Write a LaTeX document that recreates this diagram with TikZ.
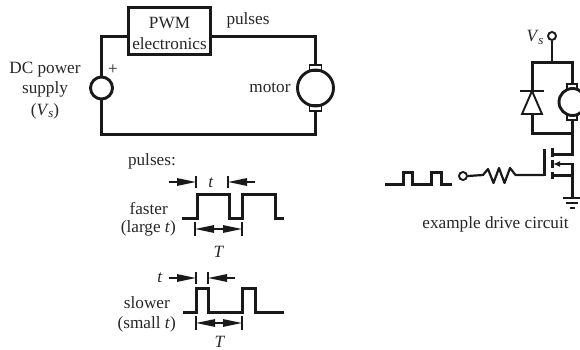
\documentclass[tikz,border=0pt]{standalone}
\usepackage{fontspec}
\setmainfont{Liberation Serif}
\usetikzlibrary{arrows.meta}
\newcommand{\Vsub}{\textit{V}\kern-0.5pt\raisebox{-2.5pt}{\fontsize{13}{13}\selectfont\textit{s}}}
\tikzset{
  x=1pt,y=-1pt,
  wire/.style={line width=2.9pt,color=black!90,line cap=butt,line join=miter},
  pulse/.style={line width=2.6pt,color=black!90,line join=miter},
  thinwire/.style={line width=1.9pt,color=black!90},
  dim/.style={line width=1.4pt,color=black!90,-{Triangle[length=19pt,width=7.5pt]}},
  bar/.style={line width=1.2pt,color=black!90},
  lab/.style={inner sep=0pt,font=\fontsize{17.2}{21}\selectfont,text=black!85,align=center},
  ring/.style={circle,draw=black!90,inner sep=0pt,minimum size=#1},
  brush/.style={rectangle,draw=black!90,line width=1.9pt,inner sep=0pt,minimum width=12pt,minimum height=6pt},
}
\begin{document}
\begin{tikzpicture}
\useasboundingbox (0,0) rectangle (580,350);
% main circuit
\node[rectangle,draw=black!90,line width=3pt,minimum width=82pt,minimum height=47pt,inner sep=0pt,lab] (pwm) at (169.5,31) {\rule{0pt}{15.4pt}PWM\\electronics};
\node[ring=22pt,wire] (src) at (101.5,88) {};
\node[ring=36pt,wire] (mot) at (315.5,88) {};
\node[brush] (bt) at (315.5,68) {};
\node[brush] (bb) at (315.5,108) {};
\coordinate (c1) at (101.5,36.5);
\coordinate (c2) at (315.5,36.5);
\coordinate (c3) at (101.5,134.5);
\coordinate (c4) at (315.5,134.5);
\draw[wire] (pwm.west |- c1) -- (c1) -- (src.north);
\draw[wire] (pwm.east |- c2) -- (c2) -- (bt.north);
\draw[wire] (src.south) -- (c3) -- (c4) -- (bb.south);
\node[lab,anchor=base] (tpulses) at (248,25) {pulses};
\node[lab,anchor=base] (tdc) at (45,74) {DC power};
\node[lab,anchor=base] (tsup) at (45,94) {supply};
\node[lab,anchor=base] (tvs) at (45,115) {(\Vsub)};
\node[lab,anchor=base] (tplus) at (113,75) {+};
\node[lab,anchor=base] (tmotor) at (270,93) {motor};
% fast pulses
\node[lab,anchor=base east] (tpl) at (176,165) {pulses:};
\node[lab,anchor=base east] (tfa) at (168,214) {faster};
\node[lab,anchor=base east] (tla) at (176,232) {(large \textit{t})};
\node[lab,anchor=base] (tt1) at (211,187) {\textit{t}};
\node[lab,anchor=base] (tT1) at (219,257) {\textit{T}};
\coordinate (a1) at (169,182); \coordinate (a2) at (196,182);
\coordinate (a3) at (255,182); \coordinate (a4) at (228,182);
\draw[dim] (a1) -- (a2);
\draw[dim] (a3) -- (a4);
\draw[bar] (196,176) -- (196,188);
\draw[bar] (228,176) -- (228,188);
\draw[pulse] (182,218.5) -- (197.5,218.5) -- (197.5,194.5) -- (229.5,194.5) -- (229.5,218.5) -- (242.5,218.5) -- (242.5,194.5) -- (275.5,194.5) -- (275.5,218.5) -- (284,218.5);
\coordinate (b1) at (195,229); \coordinate (b2) at (242,229); \coordinate (bm) at (218.5,229);
\draw[dim] (bm) -- (b1);
\draw[dim] (bm) -- (b2);
\draw[bar] (195,222) -- (195,236);
\draw[bar] (242,222) -- (242,236);
% slow pulses
\node[lab,anchor=base] (tt2) at (160,282) {\textit{t}};
\node[lab,anchor=base east] (tsl) at (170,308) {slower};
\node[lab,anchor=base east] (tsm) at (176,328) {(small \textit{t})};
\node[lab,anchor=base] (tT2) at (220,347) {\textit{T}};
\coordinate (d1) at (169,278); \coordinate (d2) at (196,278);
\coordinate (d3) at (235,278); \coordinate (d4) at (208,278);
\draw[dim] (d1) -- (d2);
\draw[dim] (d3) -- (d4);
\draw[bar] (196,272) -- (196,284);
\draw[bar] (208,272) -- (208,284);
\draw[pulse] (183,312.5) -- (196.5,312.5) -- (196.5,288.5) -- (208.5,288.5) -- (208.5,312.5) -- (242.5,312.5) -- (242.5,288.5) -- (255.5,288.5) -- (255.5,312.5) -- (284,312.5);
\coordinate (e1) at (196,323); \coordinate (e2) at (242,323); \coordinate (em) at (219,323);
\draw[dim] (em) -- (e1);
\draw[dim] (em) -- (e2);
\draw[bar] (196,316) -- (196,330);
\draw[bar] (242,316) -- (242,330);
% drive circuit
\node[ring=8pt,thinwire] (vsn) at (552,36) {};
\node[lab,anchor=base] (tvsr) at (535,42) {\Vsub};
\node[brush,minimum width=10pt,minimum height=5pt] (rt) at (572,86.5) {};
\node[brush,minimum width=10pt,minimum height=5pt] (rb) at (572,117.5) {};
\node[ring=27pt,wire] (rm) at (572.5,102) {};
\coordinate (r1) at (532.5,62.5); \coordinate (r2) at (572.5,62.5); \coordinate (r3) at (552,62.5);
\coordinate (r4) at (532.5,133.5); \coordinate (r5) at (572.5,133.5);
\coordinate (dt) at (532,91); \coordinate (db) at (532.5,114);
\draw[thinwire] (vsn.south) -- (r3);
\draw[wire] (rt.north -| r2) -- (r2) -- (r1) -- (r1 |- dt);
\draw[thinwire] (520,91) -- (544,91);
\draw[thinwire,line join=miter] (dt) -- (522,114) -- (542,114) -- cycle;
\draw[wire] (db) -- (r4) -- (r5);
\draw[wire] (rb.south -| r5) -- (572.5,154.5) -- (552.5,154.5);
% mosfet
\draw[wire] (544.5,149) -- (544.5,176);
\draw[wire] (552.5,148) -- (552.5,157);
\draw[wire] (552.5,160) -- (552.5,168);
\draw[wire] (552.5,172) -- (552.5,179);
\draw[wire] (552.5,175.5) -- (572.5,175.5);
\draw[thinwire,{Latex[length=7pt,width=6pt]}-] (553,164) -- (572.5,164);
\coordinate (gnd) at (572.5,198);
\draw[wire] (572.5,163) -- (gnd);
\draw[thinwire] (563,198) -- (580,198);
\draw[thinwire] (566,203) -- (578,203);
\draw[thinwire] (570,208) -- (575,208);
% input
\node[ring=8pt,thinwire] (inp) at (463,176) {};
\draw[line width=2.2pt,color=black!90,line join=round] (inp.east) -- (483,175) -- (488,169) -- (493.5,183) -- (499,168) -- (504.5,183) -- (510,168) -- (515.5,175) -- (544,175);
\draw[pulse] (385,184.5) -- (403.5,184.5) -- (403.5,172.5) -- (412.5,172.5) -- (412.5,184.5) -- (431.5,184.5) -- (431.5,172.5) -- (441.5,172.5) -- (441.5,184.5) -- (452,184.5);
\node[lab,anchor=base] (tex) at (495.5,228) {example drive circuit};
\end{tikzpicture}
\end{document}
